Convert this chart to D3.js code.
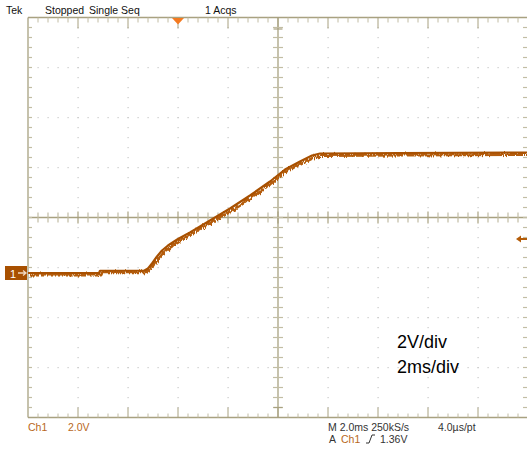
<!DOCTYPE html>
<html><head><meta charset="utf-8">
<script src="https://cdn.jsdelivr.net/npm/d3@7"></script>
<style>html,body{margin:0;padding:0;background:#fff;}svg{display:block;}</style>
</head><body>
<script>
// Time relative to trigger (ms), Ch1 voltage (V)
const timeMs = [-6, -3.16, -3.12, -1.36, -1.2, -1.04, -0.84, -0.64, -0.4, 0, 0.48, 1.28, 2.08, 2.88, 3.68, 4.28, 4.88, 5.36, 5.68, 8.88, 13.96];
const ch1Volts = [0, 0, 0.09, 0.09, 0.18, 0.38, 0.66, 0.9, 1.1, 1.36, 1.62, 2.1, 2.58, 3.1, 3.66, 4.14, 4.46, 4.7, 4.78, 4.8, 4.82];
const timeDomain = [-6, 14];        // 10 div x 2 ms
const voltsPerDiv = 2;
const groundOffsetDiv = -1.11;      // ground marker position in divisions from centre
const triggerLevel = 1.36;
const headerTexts = ["Tek", "Stopped", "Single Seq", "1 Acqs"];
const annotations = ["2V/div", "2ms/div"];

const W = 527, H = 452;
const L = 28, R = 528, T = 17.5, B = 417.5;
const svg = d3.select("body").append("svg").attr("width", W).attr("height", H)
  .style("font-family", "'Liberation Sans', Arial, sans-serif");

// rendering effect: slight jitter to mimic acquisition noise of the trace
const defs = svg.append("defs");
const f = defs.append("filter").attr("id", "jit").attr("x", "-5%").attr("y", "-20%").attr("width", "110%").attr("height", "140%");
f.append("feTurbulence").attr("type", "turbulence").attr("baseFrequency", "0.9 0.02").attr("numOctaves", 1).attr("seed", 3).attr("result", "n");
f.append("feDisplacementMap").attr("in", "SourceGraphic").attr("in2", "n").attr("scale", 5).attr("xChannelSelector", "G").attr("yChannelSelector", "R");

const x = d3.scaleLinear().domain(timeDomain).range([L, R]);
const centreV = -groundOffsetDiv * voltsPerDiv;
const y = d3.scaleLinear().domain([centreV - 4 * voltsPerDiv, centreV + 4 * voltsPerDiv]).range([B, T]);
const xDiv = d3.scaleLinear().domain([0, 10]).range([L, R]);
const yDiv = d3.scaleLinear().domain([0, 8]).range([T, B]);
const cx = xDiv(5), cy = yDiv(4);

const lineCol = "#a8a180", tickCol = "#c2bda4", dotCol = "#c9c9c9";
const g = svg.append("g");

// dotted grid on major divisions
const minorX = d3.range(1, 50).map(i => xDiv(i / 5));
const minorY = d3.range(1, 40).map(i => yDiv(i / 5));
[1,2,3,4,6,7,8,9].forEach(d => {
  minorY.forEach(yy => g.append("rect").attr("x", xDiv(d) - 0.5).attr("y", yy - 0.5).attr("width", 1.2).attr("height", 1.2).attr("fill", dotCol));
});
[1,2,3,5,6,7].forEach(d => {
  minorX.forEach(xx => g.append("rect").attr("x", xx - 0.5).attr("y", yDiv(d) - 0.5).attr("width", 1.2).attr("height", 1.2).attr("fill", dotCol));
});

// frame lines
g.append("line").attr("x1", L).attr("x2", R).attr("y1", T).attr("y2", T).attr("stroke", lineCol).attr("stroke-width", 1.3);
g.append("line").attr("x1", L).attr("x2", R).attr("y1", B).attr("y2", B).attr("stroke", lineCol).attr("stroke-width", 1.3);
g.append("line").attr("x1", L).attr("x2", L).attr("y1", T).attr("y2", B).attr("stroke", lineCol).attr("stroke-width", 1.3);
g.append("line").attr("x1", cx).attr("x2", cx).attr("y1", T).attr("y2", B).attr("stroke", lineCol).attr("stroke-width", 1.3);
g.append("line").attr("x1", L).attr("x2", R).attr("y1", cy).attr("y2", cy).attr("stroke", lineCol).attr("stroke-width", 1.3);

// ticks along top/bottom and centre horizontal
d3.range(1, 50).forEach(i => {
  const xx = xDiv(i / 5), major = i % 5 === 0;
  g.append("line").attr("x1", xx).attr("x2", xx).attr("y1", T).attr("y2", T + (major ? 11 : 5)).attr("stroke", major ? lineCol : tickCol);
  g.append("line").attr("x1", xx).attr("x2", xx).attr("y1", B).attr("y2", B - (major ? 10 : 4)).attr("stroke", major ? lineCol : tickCol);
  g.append("line").attr("x1", xx).attr("x2", xx).attr("y1", cy - (major ? 6 : 5)).attr("y2", cy + (major ? 6 : 5)).attr("stroke", major ? lineCol : tickCol).attr("stroke-width", 1.2);
});
// ticks along left/right and centre vertical
d3.range(1, 40).forEach(i => {
  const yy = yDiv(i / 5);
  g.append("line").attr("x1", L).attr("x2", L + 4).attr("y1", yy).attr("y2", yy).attr("stroke", tickCol).attr("stroke-width", 1.2);
  g.append("line").attr("x1", R).attr("x2", R - 5).attr("y1", yy).attr("y2", yy).attr("stroke", tickCol).attr("stroke-width", 1.2);
  g.append("line").attr("x1", cx - 5).attr("x2", cx + 5).attr("y1", yy).attr("y2", yy).attr("stroke", tickCol).attr("stroke-width", 1.2);
});
// centre cross markers on top and bottom
g.append("line").attr("x1", cx - 4.5).attr("x2", cx + 4.5).attr("y1", T + 11.5).attr("y2", T + 11.5).attr("stroke", lineCol).attr("stroke-width", 1.2);
g.append("line").attr("x1", cx - 4.5).attr("x2", cx + 4.5).attr("y1", B - 10).attr("y2", B - 10).attr("stroke", lineCol).attr("stroke-width", 1.2);

// trace
const data = timeMs.map((t, i) => ({t, v: ch1Volts[i]}));
const line = d3.line().x(d => x(d.t)).y(d => y(d.v));
svg.append("path").datum(data).attr("d", line).attr("fill", "none")
  .attr("stroke", "#b45c08").attr("stroke-width", 3).attr("stroke-linejoin", "round")
  .attr("filter", "url(#jit)");
svg.append("path").datum(data).attr("d", line).attr("fill", "none")
  .attr("stroke", "#a85000").attr("stroke-width", 2.2).attr("stroke-linejoin", "round");

// trigger position marker (top)
const tx = x(0);
svg.append("path").attr("d", `M${tx - 6},${T + 0.5} L${tx + 6},${T + 0.5} L${tx},${T + 7} Z`).attr("fill", "#f47a20");

// ground marker "1"
const gy = y(0);
svg.append("rect").attr("x", 5).attr("y", gy - 7).attr("width", 22).attr("height", 14).attr("fill", "#a85000");
svg.append("text").attr("x", 10).attr("y", gy + 4.5).attr("fill", "#fff").attr("font-size", 11).text("1");
svg.append("path").attr("d", `M18,${gy} L26,${gy} M23,${gy - 2.5} L26,${gy} L23,${gy + 2.5}`).attr("stroke", "#f0d8c0").attr("fill", "none").attr("stroke-width", 1.3);

// trigger level arrow (right)
const ty = y(triggerLevel);
svg.append("path").attr("d", `M516,${ty} L521,${ty - 3.5} L521,${ty + 3.5} Z`).attr("fill", "#b45c08");
svg.append("line").attr("x1", 519).attr("x2", 527).attr("y1", ty).attr("y2", ty).attr("stroke", "#b45c08").attr("stroke-width", 2);

// header text
const hdr = svg.append("g").attr("font-size", 10.5).attr("fill", "#111");
hdr.append("text").attr("x", 6).attr("y", 14).text(headerTexts[0]);
hdr.append("text").attr("x", 45).attr("y", 14).text(headerTexts[1]);
hdr.append("text").attr("x", 89).attr("y", 14).text(headerTexts[2]);
hdr.append("text").attr("x", 205).attr("y", 14).text(headerTexts[3]);

// footer text
const ft = svg.append("g").attr("font-size", 10.5);
ft.append("text").attr("x", 28).attr("y", 431).attr("fill", "#b8681c").text("Ch1");
ft.append("text").attr("x", 68).attr("y", 431).attr("fill", "#b8681c").text("2.0V");
ft.append("text").attr("x", 328).attr("y", 431).attr("fill", "#333").text("M 2.0ms 250kS/s");
ft.append("text").attr("x", 438).attr("y", 431).attr("fill", "#333").text("4.0µs/pt");
ft.append("text").attr("x", 329).attr("y", 443).attr("fill", "#333").text("A");
ft.append("text").attr("x", 341).attr("y", 443).attr("fill", "#b8681c").text("Ch1");
ft.append("path").attr("d", "M366,443 L369,443 L372,435 L375,435").attr("stroke", "#333").attr("fill", "none").attr("stroke-width", 1);
ft.append("text").attr("x", 380).attr("y", 443).attr("fill", "#333").text(triggerLevel.toFixed(2) + "V");

// annotations
svg.append("text").attr("x", 397).attr("y", 348).attr("font-size", 18).attr("fill", "#000").text(annotations[0]);
svg.append("text").attr("x", 397).attr("y", 373).attr("font-size", 18).attr("fill", "#000").text(annotations[1]);
</script>
</body></html>
